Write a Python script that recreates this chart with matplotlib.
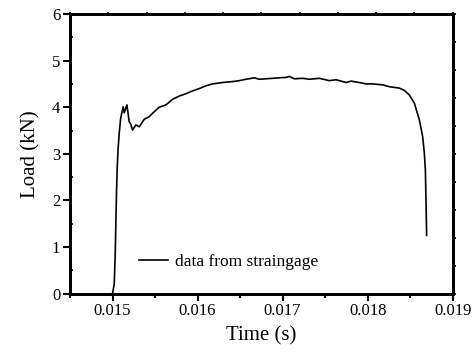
import matplotlib
matplotlib.use('Agg')
import matplotlib.pyplot as plt

# load curve read from the strain gage record
tempo = [0.015000, 0.015020, 0.015032, 0.015040, 0.015047, 0.015055, 0.015065,
         0.015079, 0.015096, 0.015126, 0.015138, 0.015169, 0.015196, 0.015214,
         0.015235, 0.015275, 0.015314, 0.015373, 0.015432, 0.015471, 0.015549,
         0.015628, 0.015706, 0.015785, 0.015864, 0.015941, 0.016020, 0.016099,
         0.016176, 0.016294, 0.016412, 0.016491, 0.016569, 0.016667, 0.016726,
         0.016882, 0.017040, 0.017079, 0.017138, 0.017235, 0.017314, 0.017432,
         0.017549, 0.017628, 0.017746, 0.017805, 0.017902, 0.017981, 0.018059,
         0.018176, 0.018255, 0.018373, 0.018432, 0.018491, 0.018549, 0.018608,
         0.018647, 0.018667, 0.018679, 0.018687, 0.018694]
carga = [0.00, 0.21, 0.87, 1.60, 2.20, 2.70, 3.10,
         3.45, 3.77, 4.01, 3.88, 4.05, 3.69, 3.64,
         3.51, 3.62, 3.58, 3.74, 3.80, 3.87, 4.00,
         4.05, 4.17, 4.24, 4.29, 4.35, 4.40, 4.46,
         4.50, 4.53, 4.55, 4.57, 4.60, 4.63, 4.60,
         4.62, 4.64, 4.66, 4.61, 4.62, 4.60, 4.62,
         4.57, 4.59, 4.53, 4.56, 4.53, 4.50, 4.50,
         4.48, 4.44, 4.41, 4.36, 4.26, 4.09, 3.73,
         3.37, 3.01, 2.65, 1.94, 1.25]

xticks = [0.015, 0.016, 0.017, 0.018, 0.019]
yticks = [0, 1, 2, 3, 4, 5, 6]

plt.rcParams['font.family'] = ['Liberation Serif', 'DejaVu Serif']

fig = plt.figure(figsize=(4.75, 3.53), dpi=100)
ax = fig.add_axes([0.1474, 0.168, 0.8056, 0.7924])

ax.plot(tempo, carga, color='black', linewidth=1.2, label='data from straingage')

ax.set_xlim(0.0145, 0.019)
ax.set_ylim(0, 6)
ax.set_xticks(xticks)
ax.set_xticklabels([f'{v:.3f}' for v in xticks])
ax.set_yticks(yticks)
ax.set_xticks([0.0145, 0.0155, 0.0165, 0.0175, 0.0185], minor=True)
ax.set_yticks([0.5, 1.5, 2.5, 3.5, 4.5, 5.5], minor=True)
ax.tick_params(which='major', direction='out', length=5, width=1.5, labelsize=12, pad=2)
ax.tick_params(axis='x', which='minor', direction='out', length=3, width=1.5)
ax.tick_params(axis='y', which='minor', direction='in', length=2.5, width=1.2)
for s in ax.spines.values():
    s.set_linewidth(1.8)

ax.set_xlabel('Time (s)', fontsize=15, labelpad=5)
ax.set_ylabel('Load (kN)', fontsize=15, labelpad=8)

ax.legend(loc='center left', bbox_to_anchor=(0.18, 0.114), frameon=False,
          fontsize=12.5, handlelength=1.7, handletextpad=0.4, borderpad=0,
          borderaxespad=0)

# eixos extras so para os ticks de cima e da direita
ax_d = ax.twinx()
ax_d.set_ylim(0, 10)
ax_d.set_yticks(range(11))
ax_d.set_yticklabels([])
ax_d.tick_params(direction='out', length=2.5, width=1.2)
ax_c = ax.twiny()
ax_c.set_xlim(0, 10)
ax_c.set_xticks(range(11))
ax_c.set_xticklabels([])
ax_c.tick_params(direction='inout', length=3, width=1.2)
for a in (ax_d, ax_c):
    for s in a.spines.values():
        s.set_linewidth(1.8)

fig.savefig('out.png', dpi=100)
